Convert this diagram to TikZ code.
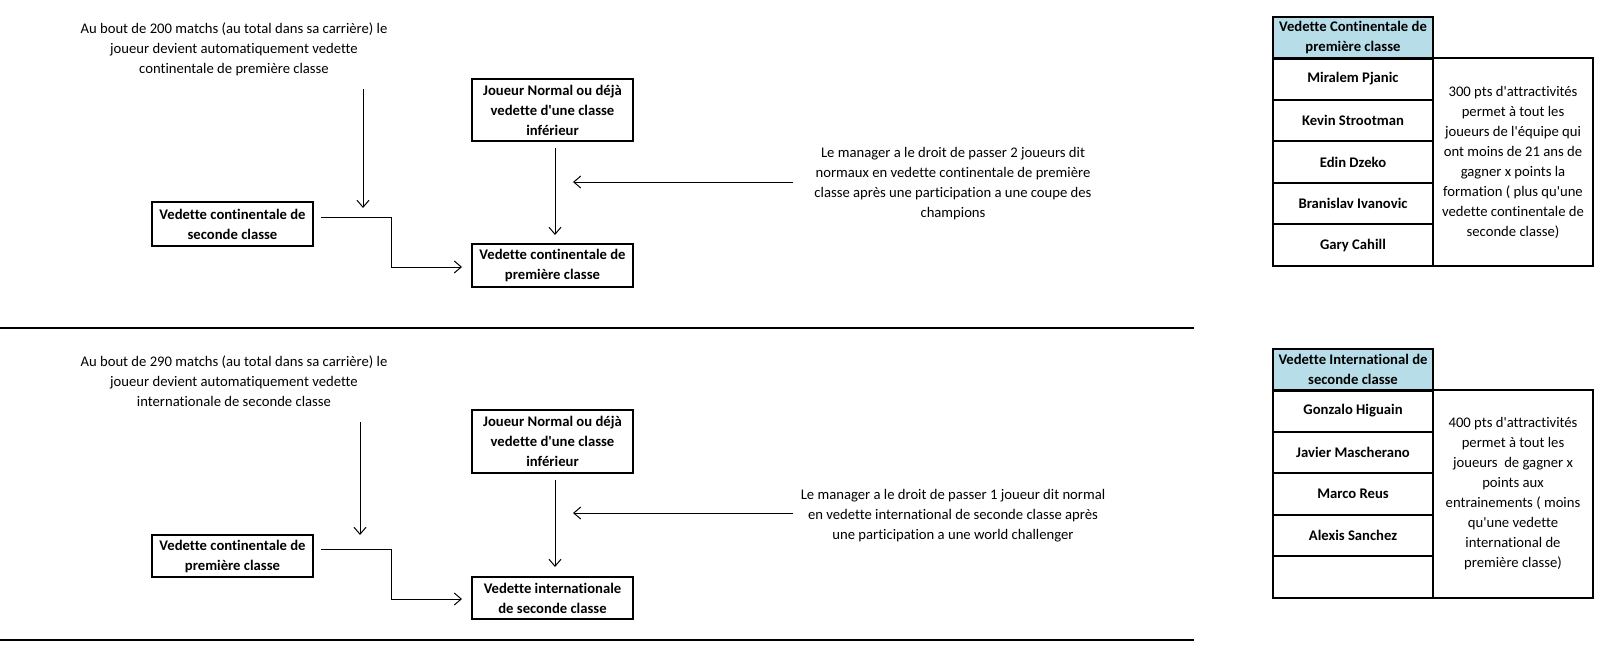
\documentclass[tikz,border=0pt]{standalone}
\usepackage{fontspec}
\setmainfont{Carlito}[Ligatures=NoCommon]
\usetikzlibrary{arrows.meta}
\definecolor{hdr}{HTML}{B7DEE8}
\newcommand{\ap}{\textquotesingle}
\begin{document}
\begin{tikzpicture}[x=1pt,y=-1pt,
  every node/.style={inner sep=0pt, outer sep=0pt},
  txt/.style={font=\fontsize{14.67}{20}\selectfont, align=center},
  box/.style={draw, line width=2pt, font=\bfseries\fontsize{14.67}{20}\selectfont, align=center, minimum width=161pt},
  cell/.style={draw, line width=2pt, anchor=north west, minimum width=160pt, minimum height=41.6pt, font=\bfseries\fontsize{14.67}{20}\selectfont, align=center},
  hcell/.style={cell, fill=hdr},
  side/.style={draw, line width=2pt, anchor=north west, minimum width=160pt, font=\fontsize{14.67}{20}\selectfont, align=center},
  arr/.style={line width=1pt, -{Straight Barb[length=7pt,width=12pt]}},
  rule/.style={line width=2pt}
]
\useasboundingbox (0,0) rectangle (1615,648);

% ---------------- top section ----------------
\node[txt] (t1) at (234,49) {Au bout de 200 matchs (au total dans sa carrière) le\\joueur devient automatiquement vedette\\continentale de première classe};
\node[box, minimum height=44pt] (b1) at (232.5,224) {Vedette continentale de\\seconde classe};
\node[box, minimum height=62pt] (j1) at (552.5,110) {Joueur Normal ou déjà\\vedette d\ap une classe\\inférieur};
\node[box, minimum height=43pt] (c1) at (552.5,265.5) {Vedette continentale de\\première classe};
\node[txt] (m1) at (953,184) {Le manager a le droit de passer 2 joueurs dit\\normaux en vedette continentale de première\\classe après une participation a une coupe des\\champions};

\coordinate (a1s) at (363,89);
\coordinate (a1e) at (363,208);
\draw[arr] (a1s) -- (a1e);
\coordinate (e1s) at (321,217);
\coordinate (e1m) at (391,217);
\coordinate (e1n) at (391,267);
\coordinate (e1e) at (462,267);
\draw[arr] (e1s) -- (e1m) -- (e1n) -- (e1e);
\coordinate (v1s) at (555,148);
\coordinate (v1e) at (555,235);
\draw[arr] (v1s) -- (v1e);
\coordinate (h1s) at (793,182);
\coordinate (h1e) at (573,182);
\draw[arr] (h1s) -- (h1e);

\coordinate (r1a) at (0,328);
\coordinate (r1b) at (1194,328);
\draw[rule] (r1a) -- (r1b);

% top table
\node[hcell] (th) at (1273,17) {Vedette Continentale de\\première classe};
\node[cell] (tn1) at (1273,58) {Miralem Pjanic};
\node[cell] (tn2) at (1273,99.6) {Kevin Strootman};
\node[cell] (tn3) at (1273,141.2) {Edin Dzeko};
\node[cell] (tn4) at (1273,182.8) {Branislav Ivanovic};
\node[cell] (tn5) at (1273,224.4) {Gary Cahill};
\node[side, minimum height=208pt] (ts) at (1433,58) {300 pts d\ap attractivités\\permet à tout les\\joueurs de l\ap équipe qui\\ont moins de 21 ans de\\gagner x points la\\formation ( plus qu\ap une\\vedette continentale de\\seconde classe)};

% ---------------- bottom section ----------------
\node[txt] (t2) at (234,381) {Au bout de 290 matchs (au total dans sa carrière) le\\joueur devient automatiquement vedette\\internationale de seconde classe};
\node[box, minimum height=42pt] (b2) at (232.5,556) {Vedette continentale de\\première classe};
\node[box, minimum height=63pt] (j2) at (552.5,441.5) {Joueur Normal ou déjà\\vedette d\ap une classe\\inférieur};
\node[box, minimum height=42pt] (c2) at (552.5,598) {Vedette internationale\\de seconde classe};
\node[txt] (m2) at (953,516) {Le manager a le droit de passer 1 joueur dit normal\\en vedette international de seconde classe après\\une participation a une world challenger};

\coordinate (a2s) at (360,422);
\coordinate (a2e) at (360,535);
\draw[arr] (a2s) -- (a2e);
\coordinate (e2s) at (321,549);
\coordinate (e2m) at (391,549);
\coordinate (e2n) at (391,599);
\coordinate (e2e) at (462,599);
\draw[arr] (e2s) -- (e2m) -- (e2n) -- (e2e);
\coordinate (v2s) at (555,480);
\coordinate (v2e) at (555,567);
\draw[arr] (v2s) -- (v2e);
\coordinate (h2s) at (793,513);
\coordinate (h2e) at (573,513);
\draw[arr] (h2s) -- (h2e);

\coordinate (r2a) at (0,640);
\coordinate (r2b) at (1194,640);
\draw[rule] (r2a) -- (r2b);

% bottom table
\node[hcell] (bh) at (1273,349) {Vedette International de\\seconde classe};
\node[cell] (bn1) at (1273,390) {Gonzalo Higuain};
\node[cell] (bn2) at (1273,431.6) {Javier Mascherano};
\node[cell] (bn3) at (1273,473.2) {Marco Reus};
\node[cell] (bn4) at (1273,514.8) {Alexis Sanchez};
\node[cell] (bn5) at (1273,556.4) {};
\node[side, minimum height=208pt] (bs) at (1433,390) {400 pts d\ap attractivités\\permet à tout les\\joueurs~ de gagner x\\points aux\\entrainements ( moins\\qu\ap une vedette\\international de\\première classe)};
\end{tikzpicture}
\end{document}
